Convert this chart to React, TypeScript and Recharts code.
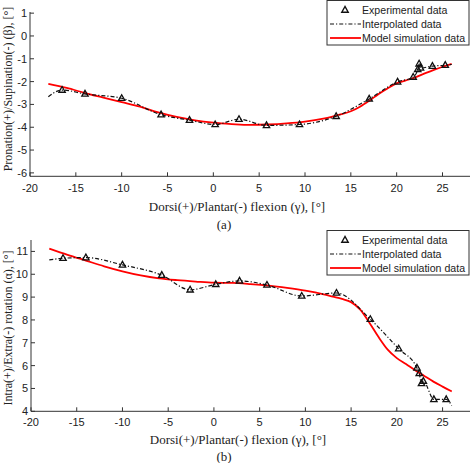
import { LineChart, Line, XAxis, YAxis } from 'recharts';

// (a) pronation / supination
const flexA = [-16.5, -14, -10, -5.7, -2.6, 0.2, 2.8, 5.8, 9.4, 13.4, 17.0, 20.1, 21.8, 22.3, 22.45, 22.6, 23.9, 25.3];
const expA = [-2.37, -2.54, -2.73, -3.45, -3.69, -3.88, -3.65, -3.92, -3.88, -3.52, -2.76, -2.01, -1.8, -1.47, -1.22, -1.4, -1.32, -1.28];
const interpEndsA = { start: [-18, -2.66], end: [26, -1.25] };

// (b) intra / extra rotation
const flexB = [-16.5, -14, -10, -5.7, -2.6, 0.2, 2.8, 5.8, 9.6, 13.4, 17.1, 20.2, 22.2, 22.45, 22.7, 22.9, 24.05, 25.4];
const expB = [10.7, 10.73, 10.41, 9.96, 9.32, 9.56, 9.71, 9.53, 9.05, 9.18, 8.03, 6.74, 5.9, 5.66, 5.22, 5.32, 4.52, 4.52];
const interpEndsB = { start: [-18, 10.63], end: [26, 4.25] };

// model simulation
const modelFlex = [-18, -16, -14, -12, -10, -8, -6, -4, -2, 0, 2, 4, 6, 8, 10, 12, 13, 14, 15, 16, 17, 18, 19, 20, 21, 22, 23, 24, 25, 26];
const modelA = [-2.1, -2.28, -2.5, -2.7, -2.9, -3.1, -3.35, -3.55, -3.7, -3.8, -3.86, -3.9, -3.88, -3.83, -3.75, -3.62, -3.53, -3.43, -3.3, -3.1, -2.84, -2.55, -2.3, -2.08, -1.95, -1.82, -1.65, -1.5, -1.35, -1.22];
const modelB = [11.12, 10.85, 10.6, 10.35, 10.13, 9.95, 9.82, 9.74, 9.68, 9.63, 9.62, 9.57, 9.5, 9.4, 9.28, 9.12, 9.02, 8.92, 8.78, 8.45, 7.88, 7.25, 6.7, 6.33, 6.07, 5.8, 5.55, 5.3, 5.08, 4.87];

const xTicks = [-20, -15, -10, -5, 0, 5, 10, 15, 20, 25];
const yTicksA = [-6, -5, -4, -3, -2, -1, 0, 1];
const yTicksB = [4, 5, 6, 7, 8, 9, 10, 11];

const AXIS = '#333';
const SANS = '"Liberation Sans", Arial, sans-serif';
const SERIF = '"Liberation Serif", "Times New Roman", serif';
const DASHDOT = '4 2 1.2 2';

const pts = (xs: number[], ys: number[]) => xs.map((x, i) => ({ x, y: ys[i] }));
const withEnds = (xs: number[], ys: number[], ends: { start: number[]; end: number[] }) => [
  { x: ends.start[0], y: ends.start[1] },
  ...pts(xs, ys),
  { x: ends.end[0], y: ends.end[1] },
];

const XTick = (off: number) => (props: any) => {
  const { x, y, payload } = props;
  return (
    <g>
      <line x1={x} x2={x} y1={y} y2={y - 4} stroke={AXIS} />
      <text x={x} y={y + off} textAnchor="middle" fontSize={11} fontFamily={SANS} fill="#222">
        {payload.value}
      </text>
    </g>
  );
};

const YTick = (props: any) => {
  const { x, y, payload } = props;
  return (
    <g>
      <line x1={x} x2={x + 4} y1={y} y2={y} stroke={AXIS} />
      <text x={x - 3} y={y + 4} textAnchor="end" fontSize={11} fontFamily={SANS} fill="#222">
        {payload.value}
      </text>
    </g>
  );
};

const Tri = (props: any) => {
  const { cx, cy } = props;
  if (cx == null || cy == null) return null;
  return (
    <polygon
      points={`${cx},${cy - 3.5} ${cx - 3.2},${cy + 2.2} ${cx + 3.2},${cy + 2.2}`}
      fill="none"
      stroke="#111"
      strokeWidth={1.3}
    />
  );
};

function Panel({ exp, interp, model, yDomain, yTicks, top, xAxisH, yAxisW, tickOff }: any) {
  return (
    <LineChart width={473} height={200} margin={{ top, right: 3, bottom: 0, left: 0 }}>
      <XAxis
        dataKey="x"
        type="number"
        domain={[-20, 28]}
        ticks={xTicks}
        interval={0}
        allowDataOverflow
        height={xAxisH}
        stroke={AXIS}
        tickSize={0}
        tickMargin={0}
        tick={XTick(tickOff)}
      />
      <YAxis
        type="number"
        domain={yDomain}
        ticks={yTicks}
        interval={0}
        allowDataOverflow
        width={yAxisW}
        stroke={AXIS}
        tickSize={0}
        tickMargin={0}
        tick={YTick}
      />
      <Line data={model} dataKey="y" type="monotone" stroke="#ff0000" strokeWidth={1.8} dot={false} isAnimationActive={false} />
      <Line data={interp} dataKey="y" type="monotone" stroke="#111" strokeWidth={1.2} strokeDasharray={DASHDOT} dot={false} isAnimationActive={false} />
      <Line data={exp} dataKey="y" stroke="none" dot={<Tri />} isAnimationActive={false} />
    </LineChart>
  );
}

const LegendBox = ({ y }: { y: number }) => (
  <g transform={`translate(327, ${y})`}>
    <rect x={0} y={0.5} width={142} height={44.5} fill="#fff" stroke={AXIS} />
    <polygon points="18,6.5 14.8,12.2 21.2,12.2" fill="none" stroke="#111" strokeWidth={1.4} />
    <text x={35} y={14} fontSize={10.6} fontFamily={SANS} fill="#222">Experimental data</text>
    <line x1={3} x2={34} y1={24} y2={24} stroke="#111" strokeWidth={1.2} strokeDasharray={DASHDOT} />
    <text x={35} y={28} fontSize={10.6} fontFamily={SANS} fill="#222">Interpolated data</text>
    <line x1={3} x2={34} y1={38} y2={38} stroke="#ff0000" strokeWidth={1.8} />
    <text x={35} y={42} fontSize={10.6} fontFamily={SANS} fill="#222">Model simulation data</text>
  </g>
);

export default function App() {
  return (
    <div style={{ position: 'absolute', left: 0, top: 0, width: 473, height: 463, background: '#fff' }}>
      <div style={{ position: 'absolute', left: 0, top: 0 }}>
        <Panel
          exp={pts(flexA, expA)}
          interp={withEnds(flexA, expA, interpEndsA)}
          model={pts(modelFlex, modelA)}
          yDomain={[-6.15, 1.05]}
          yTicks={yTicksA}
          top={12}
          xAxisH={23.7}
          yAxisW={30}
          tickOff={16}
        />
      </div>
      <div style={{ position: 'absolute', left: 0, top: 230 }}>
        <Panel
          exp={pts(flexB, expB)}
          interp={withEnds(flexB, expB, interpEndsB)}
          model={pts(modelFlex, modelB)}
          yDomain={[4, 11.5]}
          yTicks={yTicksB}
          top={10}
          xAxisH={18.7}
          yAxisW={31}
          tickOff={14.5}
        />
      </div>
      <svg width={473} height={463} style={{ position: 'absolute', left: 0, top: 0, pointerEvents: 'none' }}>
        <LegendBox y={0} />
        <LegendBox y={230} />
        <text x={237} y={211} textAnchor="middle" fontSize={13} fontFamily={SERIF} fill="#222">
          Dorsi(+)/Plantar(-) flexion (γ), [°]
        </text>
        <text x={224} y={229} textAnchor="middle" fontSize={13} fontFamily={SERIF} fill="#222">(a)</text>
        <text x={238} y={444} textAnchor="middle" fontSize={13} fontFamily={SERIF} fill="#222">
          Dorsi(+)/Plantar(-) flexion (γ), [°]
        </text>
        <text x={224} y={461} textAnchor="middle" fontSize={13} fontFamily={SERIF} fill="#222">(b)</text>
        <text transform="translate(12, 89) rotate(-90)" textAnchor="middle" fontSize={12} fontFamily={SERIF} fill="#222">
          Pronation(+)/Supination(-) (β), [°]
        </text>
        <text transform="translate(12, 328) rotate(-90)" textAnchor="middle" fontSize={12} fontFamily={SERIF} fill="#222">
          Intra(+)/Extra(-) rotation (α), [°]
        </text>
      </svg>
    </div>
  );
}
